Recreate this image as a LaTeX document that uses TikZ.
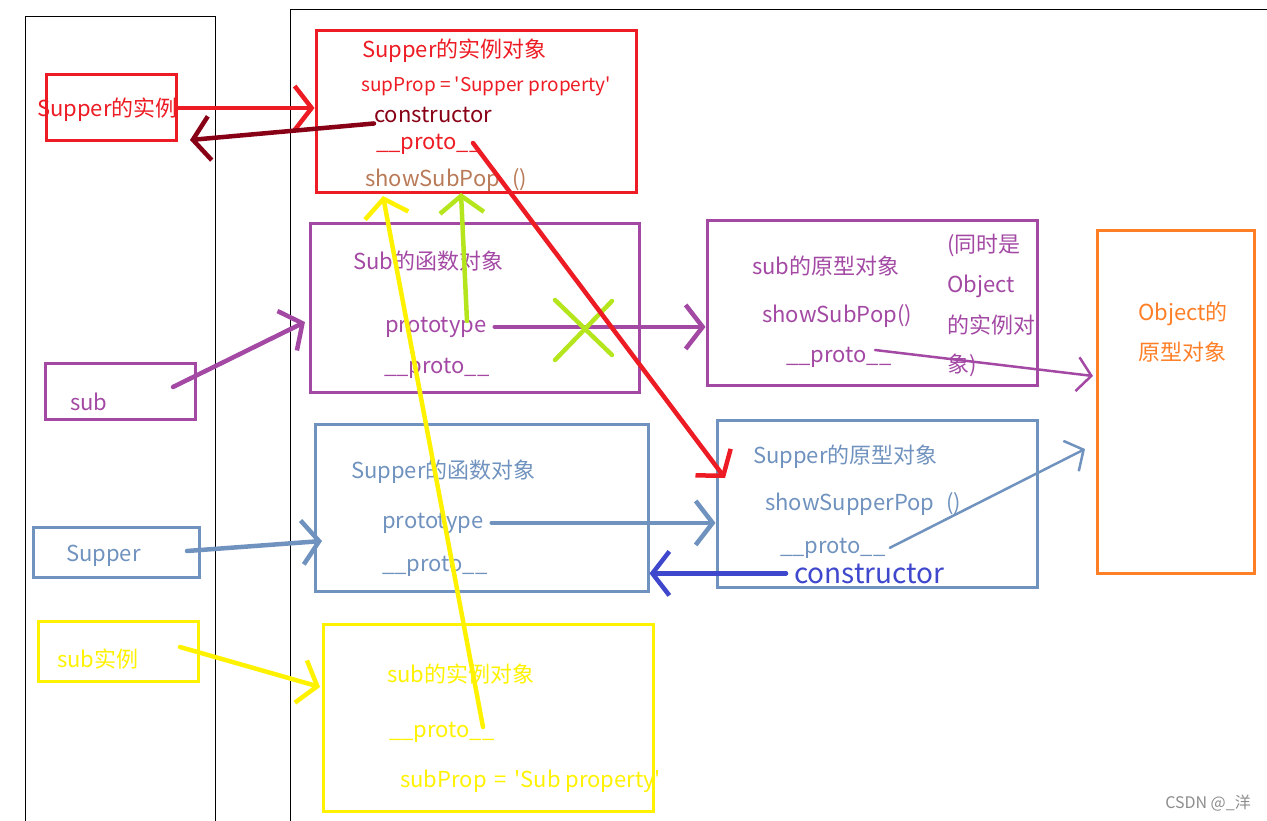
\documentclass[tikz,border=0pt]{standalone}
\usepackage{fontspec}
\newfontfamily\cjkfont[Ligatures=TeXOff]{Noto Sans CJK SC}
\usetikzlibrary{arrows.meta}
\definecolor{pred}{HTML}{ED1C24}
\definecolor{pdarkred}{HTML}{880015}
\definecolor{pbrown}{HTML}{B97A57}
\definecolor{ppurple}{HTML}{A349A4}
\definecolor{pgray}{HTML}{7092BE}
\definecolor{pblue}{HTML}{3F48CC}
\definecolor{pyellow}{HTML}{FFF200}
\definecolor{pgreen}{HTML}{B5E61D}
\definecolor{porange}{HTML}{FF7F27}

\begin{document}
\begin{tikzpicture}[x=1pt,y=-1pt,line cap=round,
  box/.style={draw=#1,line width=3pt,inner sep=0pt},
  lbl/.style={anchor=base west,inner sep=0pt,text=#1,font=\cjkfont\fontsize{22pt}{26pt}\selectfont},
  small/.style={font=\cjkfont\fontsize{19pt}{22pt}\selectfont},
  big/.style={font=\cjkfont\fontsize{28pt}{32pt}\selectfont},
  link/.style={draw=#1,line width=4.5pt,-{Straight Barb[length=17pt,width=44pt]}},
  thin link/.style={draw=#1,line width=2.5pt,-{Straight Barb[length=14pt,width=34pt]}},
  frame/.style={draw=black,line width=1pt}]
  \useasboundingbox (0,0) rectangle (1267,821);

  % the two panels
  \draw[frame] (25,821) -- (25,17) -- (215,17) -- (215,821);
  \draw[frame] (290,821) -- (290,10) -- (1267,10);

  % boxes
  \node[box=pred,minimum width=320pt,minimum height=162pt] (supinst) at (476,112) {};
  \node[box=pred,minimum width=130pt,minimum height=66pt] (supinstvar) at (111,108) {};
  \node[box=ppurple,minimum width=329pt,minimum height=168pt] (subfn) at (474.5,308) {};
  \node[box=ppurple,minimum width=330pt,minimum height=164pt] (subproto) at (872,303) {};
  \node[box=porange,minimum width=157pt,minimum height=342pt] (objproto) at (1175.5,402) {};
  \node[box=ppurple,minimum width=150pt,minimum height=56pt] (subvar) at (120,391) {};
  \node[box=pgray,minimum width=333pt,minimum height=167pt] (supfn) at (481.5,507.5) {};
  \node[box=pgray,minimum width=320pt,minimum height=167pt] (supproto) at (877,503.5) {};
  \node[box=pgray,minimum width=166pt,minimum height=50pt] (supvar) at (116,552) {};
  \node[box=pyellow,minimum width=160pt,minimum height=60pt] (subinstvar) at (118,651) {};
  \node[box=pyellow,minimum width=330pt,minimum height=187pt] (subinst) at (488,717.5) {};

  % Supper instance
  \node[lbl=pred] (supinst-title) at (362,58) {Supper的实例对象};
  \node[lbl=pred,small] (supinst-prop) at (361,92) {supProp = 'Supper property'};
  \node[lbl=pdarkred] (supinst-ctor) at (374,123) {constructor};
  \node[lbl=pred] (supinst-proto) at (376,150) {\_\_proto\_\_};
  \node[lbl=pbrown] (supinst-show) at (365,187) {showSubPop\hspace{12pt}()};
  \node[lbl=pred] (supinstvar-txt) at (37,117) {Supper的实例};

  % Sub function and prototype
  \node[lbl=ppurple] (subfn-title) at (353,270) {Sub的函数对象};
  \node[lbl=ppurple] (subfn-ptype) at (385,332) {prototype};
  \node[lbl=ppurple] (subfn-proto) at (384,373) {\_\_proto\_\_};
  \node[lbl=ppurple] (subproto-title) at (752,275) {sub的原型对象};
  \node[lbl=ppurple] (subproto-show) at (762,323) {showSubPop()};
  \node[lbl=ppurple] (subproto-proto) at (786,362) {\_\_proto\_\_};
  \node[lbl=ppurple] (subproto-n1) at (947,253) {(同时是};
  \node[lbl=ppurple] (subproto-n2) at (947,293) {Object};
  \node[lbl=ppurple] (subproto-n3) at (947,333) {的实例对};
  \node[lbl=ppurple] (subproto-n4) at (947,372) {象)};
  \node[lbl=ppurple] (subvar-txt) at (70,410) {sub};

  % Object prototype
  \node[lbl=porange] (objproto-l1) at (1138,320) {Object的};
  \node[lbl=porange] (objproto-l2) at (1138,360) {原型对象};

  % Supper function and prototype
  \node[lbl=pgray] (supfn-title) at (351,478) {Supper的函数对象};
  \node[lbl=pgray] (supfn-ptype) at (382,528) {prototype};
  \node[lbl=pgray] (supfn-proto) at (382,571) {\_\_proto\_\_};
  \node[lbl=pgray] (supproto-title) at (753,463) {Supper的原型对象};
  \node[lbl=pgray] (supproto-show) at (765,510) {showSupperPop\hspace{12pt}()};
  \node[lbl=pgray] (supproto-proto) at (780,553) {\_\_proto\_\_};
  \node[lbl=pblue,big] (supproto-ctor) at (794,583) {constructor};
  \node[lbl=pgray] (supvar-txt) at (66,561) {Supper};

  % sub instance
  \node[lbl=pyellow] (subinstvar-txt) at (57,667) {sub实例};
  \node[lbl=pyellow] (subinst-title) at (387,682) {sub的实例对象};
  \node[lbl=pyellow] (subinst-proto) at (389,737) {\_\_proto\_\_};
  \node[lbl=pyellow] (subinst-prop) at (400,787) {subProp\hspace{3pt} = \hspace{3pt}'Sub property'};

  \node[anchor=base east,inner sep=0pt,text=black!45,font=\cjkfont\fontsize{16pt}{18pt}\selectfont] (mark) at (1251,808) {CSDN @\_洋};

  % free ends
  \coordinate (back-tip) at (190,140);
  \coordinate (red-start) at (473,143);
  \coordinate (red-tip) at (725,478);
  \coordinate (yel-start) at (483,727);
  \coordinate (yel-tip) at (383,196);
  \coordinate (grn-base) at (467,321);
  \coordinate (grn-tip) at (461,193);
  \coordinate (sub-start) at (173,387);
  \coordinate (sub-tip) at (305,322);
  \coordinate (obj-start1) at (875,350);
  \coordinate (obj-tip1) at (1093,376);
  \coordinate (sup-start) at (187,551);
  \coordinate (sup-tip) at (322,541);
  \coordinate (obj-tip2) at (1085,449);
  \coordinate (si-start) at (180,647);
  \coordinate (si-tip) at (320,687);

  % connectors
  \draw[link=ppurple] ([xshift=8pt]subfn-ptype.east) -- (subproto.west |- subfn-ptype.east);
  \draw[line width=4.5pt,pgreen] (555,300) -- (612,355) (612,301) -- (555,360);
  \draw[link=pred] (supinstvar.east) -- (supinst.west |- supinstvar.east);
  \draw[link=pdarkred] (supinst-ctor.south west) -- (back-tip);
  \draw[link=pred] (red-start) -- (red-tip);
  \draw[link=pgreen] (grn-base) -- (grn-tip);
  \draw[link=pyellow] (yel-start) -- (yel-tip);
  \draw[link=ppurple] (sub-start) -- (sub-tip);
  \draw[thin link=ppurple] (obj-start1) -- (obj-tip1);
  \draw[link=pgray] (sup-start) -- (sup-tip);
  \draw[link=pgray] ([xshift=8pt]supfn-ptype.east) -- (supproto.west |- supfn-ptype.east);
  \draw[thin link=pgray] ([xshift=4pt]supproto-proto.east) -- (obj-tip2);
  \draw[link=pblue] ([xshift=-8pt]supproto-ctor.west) -- (supfn.east |- supproto-ctor.west);
  \draw[link=pyellow] (si-start) -- (si-tip);
\end{tikzpicture}
\end{document}
